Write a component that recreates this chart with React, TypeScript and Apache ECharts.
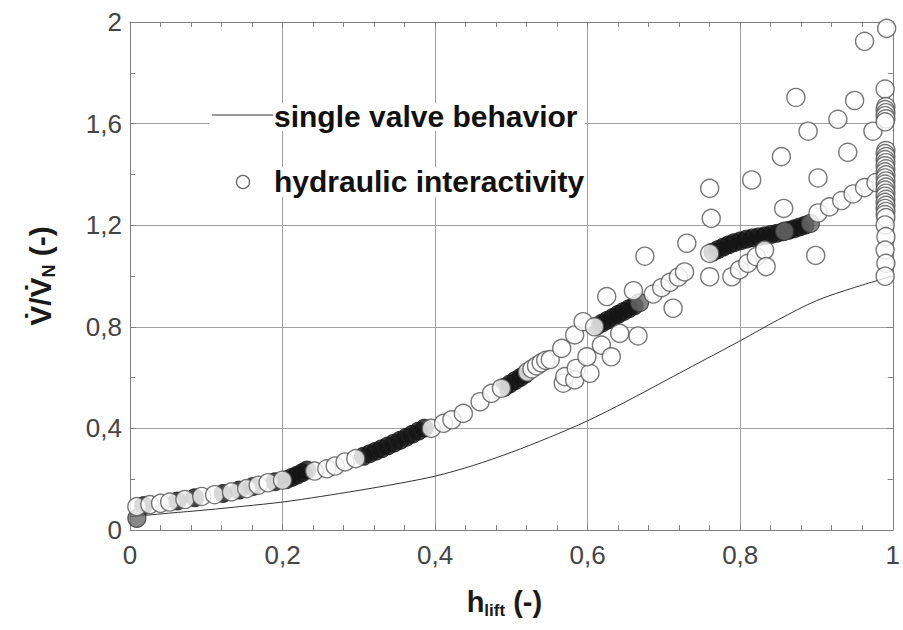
import React, { useEffect, useRef } from "react";
import * as echarts from "echarts";

// ---- single valve behaviour curve ----
const valveLift = [0, 0.05, 0.1, 0.15, 0.2, 0.25, 0.3, 0.35, 0.4, 0.45, 0.5, 0.55, 0.6, 0.65, 0.7, 0.75, 0.8, 0.85, 0.9, 0.95, 1.0];
const valveFlow = [0.052, 0.066, 0.079, 0.094, 0.11, 0.132, 0.156, 0.182, 0.212, 0.254, 0.306, 0.365, 0.43, 0.505, 0.585, 0.665, 0.745, 0.828, 0.903, 0.955, 1.0];

// ---- hydraulic interactivity: densely overlapping runs (appear black) ----
const denseRuns: number[][] = [
  [0.018, 0.096], [0.062, 0.114], [0.085, 0.127], [0.122, 0.144], [0.143, 0.157], [0.161, 0.171], [0.19, 0.19],
  [0.205, 0.198], [0.212, 0.207], [0.219, 0.216], [0.226, 0.226], [0.232, 0.236],
  [0.306, 0.290], [0.314, 0.300], [0.322, 0.310], [0.330, 0.320], [0.338, 0.331], [0.346, 0.342],
  [0.354, 0.353], [0.362, 0.365], [0.370, 0.377], [0.378, 0.389], [0.386, 0.401],
  [0.491, 0.562], [0.498, 0.575], [0.505, 0.588], [0.512, 0.601], [0.518, 0.613],
  [0.612, 0.803], [0.619, 0.815], [0.626, 0.826], [0.633, 0.837], [0.640, 0.849], [0.647, 0.860],
  [0.654, 0.871], [0.661, 0.882],
  [0.764, 1.094], [0.771, 1.104], [0.778, 1.114], [0.785, 1.123], [0.792, 1.131], [0.800, 1.138],
  [0.808, 1.145], [0.816, 1.150], [0.824, 1.154], [0.832, 1.158], [0.840, 1.163], [0.848, 1.168],
  [0.856, 1.174], [0.864, 1.180], [0.871, 1.186], [0.878, 1.193], [0.885, 1.200]
];

// ---- hydraulic interactivity: partly overlapping (grey) points ----
const shadedPoints: number[][] = [
  [0.009, 0.046], [0.668, 0.895], [0.892, 1.207], [0.858, 1.176]
];

// ---- hydraulic interactivity: individual circles ----
const lowPoints: number[][] = [
  [0.009, 0.092], [0.026, 0.100], [0.040, 0.105], [0.052, 0.110], [0.072, 0.120], [0.094, 0.132],
  [0.111, 0.139], [0.133, 0.150], [0.153, 0.163], [0.168, 0.176], [0.181, 0.186], [0.200, 0.196],
  [0.242, 0.232], [0.258, 0.241], [0.269, 0.252], [0.282, 0.268], [0.296, 0.281],
  [0.395, 0.400], [0.411, 0.420], [0.422, 0.434], [0.437, 0.459], [0.459, 0.505], [0.474, 0.538], [0.487, 0.558]
];
const midPoints: number[][] = [
  [0.521, 0.622], [0.527, 0.634], [0.533, 0.646], [0.539, 0.658], [0.545, 0.668],
  [0.568, 0.578], [0.570, 0.604], [0.583, 0.591], [0.585, 0.636], [0.603, 0.617], [0.551, 0.671],
  [0.566, 0.715], [0.583, 0.768], [0.599, 0.682], [0.618, 0.728], [0.631, 0.682], [0.642, 0.774],
  [0.666, 0.764], [0.594, 0.820], [0.609, 0.800], [0.625, 0.919], [0.660, 0.942], [0.712, 0.873],
  [0.686, 0.929], [0.697, 0.954], [0.708, 0.975], [0.719, 0.996], [0.727, 1.016],
  [0.675, 1.078], [0.730, 1.129]
];
const highPoints: number[][] = [
  [0.760, 1.089], [0.789, 0.997], [0.799, 1.024], [0.810, 1.050], [0.821, 1.076], [0.832, 1.102], [0.834, 1.037],
  [0.760, 0.997], [0.762, 1.227], [0.760, 1.345], [0.815, 1.378], [0.854, 1.470], [0.873, 1.703],
  [0.889, 1.570], [0.857, 1.266], [0.902, 1.386], [0.941, 1.487], [0.928, 1.617], [0.950, 1.691],
  [0.963, 1.924], [0.974, 1.570], [0.899, 1.081],
  [0.902, 1.248], [0.917, 1.272], [0.933, 1.297], [0.948, 1.323], [0.963, 1.348], [0.978, 1.368]
];
const fullOpenPoints: number[][] = [
  [0.992, 1.975], [0.990, 1.736], [0.991, 1.667], [0.990, 1.655], [0.991, 1.643], [0.990, 1.631],
  [0.991, 1.619], [0.990, 1.607],
  [0.991, 1.494], [0.990, 1.482], [0.991, 1.470], [0.990, 1.458], [0.991, 1.446], [0.990, 1.434],
  [0.991, 1.422], [0.990, 1.410], [0.991, 1.398], [0.990, 1.386], [0.991, 1.374], [0.990, 1.362],
  [0.991, 1.350], [0.990, 1.338], [0.991, 1.326], [0.990, 1.314], [0.991, 1.302], [0.990, 1.290],
  [0.991, 1.278], [0.990, 1.266], [0.991, 1.254], [0.990, 1.242], [0.991, 1.230],
  [0.990, 1.201], [0.991, 1.155], [0.990, 1.102], [0.991, 1.050], [0.990, 0.999]
];

const xTickStep = 0.2;
const yTickStep = 0.4;

const FONT = "'Liberation Sans', Arial, Helvetica, sans-serif";
const fmt = (v: number) => String(Number(v.toFixed(2))).replace(".", ",");

export default function App() {
  const ref = useRef<HTMLDivElement>(null);

  useEffect(() => {
    if (!ref.current) return;
    const chart = echarts.init(ref.current, undefined, { renderer: "svg" });

    const frame = { color: "#808080", width: 1 };
    const baseX = {
      type: "value" as const,
      min: 0,
      max: 1,
      interval: xTickStep,
      axisLine: { show: true, onZero: false, lineStyle: frame },
      axisTick: { show: true, inside: true, length: 6, lineStyle: frame },
      minorTick: { show: true, splitNumber: 5, length: 5, lineStyle: frame },
    };
    const baseY = {
      type: "value" as const,
      min: 0,
      max: 2,
      interval: yTickStep,
      axisLine: { show: true, onZero: false, lineStyle: frame },
      axisTick: { show: true, inside: true, length: 6, lineStyle: frame },
      minorTick: { show: true, splitNumber: 2, length: 5, lineStyle: frame },
    };
    const labelStyle = { fontFamily: FONT, fontSize: 26, color: "#444" };

    const circleStyle = { color: "#ffffff", borderColor: "#555", borderWidth: 1.4 };
    const SIZE = 18;

    const option: any = {
      animation: false,
      backgroundColor: "#ffffff",
      grid: { left: 130, right: 10, top: 22, bottom: 100, containLabel: false },
      xAxis: [
        {
          ...baseX,
          position: "bottom",
          splitLine: { show: true, lineStyle: { color: "#a0a0a0", width: 1 } },
          axisLabel: { ...labelStyle, margin: 12, formatter: fmt },
          name: "{m|h}{s|lift}{m| (-)}",
          nameLocation: "middle",
          nameGap: 55,
          nameTextStyle: {
            padding: [0, 14, 0, 0],
            rich: {
              m: { fontFamily: FONT, fontSize: 29, fontWeight: "bold", color: "#1a1a1a", lineHeight: 34 },
              s: { fontFamily: FONT, fontSize: 17, fontWeight: "bold", color: "#1a1a1a", lineHeight: 14, verticalAlign: "bottom" },
            },
          },
        },
        {
          ...baseX,
          position: "top",
          splitLine: { show: false },
          axisLabel: { show: false },
        },
      ],
      yAxis: [
        {
          ...baseY,
          position: "left",
          splitLine: { show: true, lineStyle: { color: "#a0a0a0", width: 1 } },
          axisLabel: { ...labelStyle, margin: 8, formatter: fmt },
          name: "{m|V\u0307/V\u0307}{s|N}{m| (-)}",
          nameLocation: "middle",
          nameRotate: 90,
          nameGap: 72,
          nameTextStyle: {
            rich: {
              m: { fontFamily: FONT, fontSize: 30, fontWeight: "bold", color: "#1a1a1a", lineHeight: 36 },
              s: { fontFamily: FONT, fontSize: 18, fontWeight: "bold", color: "#1a1a1a", lineHeight: 14, verticalAlign: "bottom" },
            },
          },
        },
        {
          ...baseY,
          position: "right",
          splitLine: { show: false },
          axisLabel: { show: false },
        },
      ],
      series: [
        {
          name: "single valve behavior",
          type: "line",
          data: valveLift.map((x, i) => [x, valveFlow[i]]),
          smooth: 0.3,
          symbol: "none",
          lineStyle: { color: "#333", width: 1 },
          z: 2,
        },
        {
          name: "dense",
          type: "scatter",
          data: denseRuns,
          symbolSize: SIZE,
          itemStyle: { color: "#141414", borderColor: "#141414", borderWidth: 1 },
          z: 3,
        },
        {
          name: "shaded",
          type: "scatter",
          data: shadedPoints,
          symbolSize: SIZE,
          itemStyle: { color: "#6a6a6a", borderColor: "#333", borderWidth: 1.2 },
          z: 4,
        },
        {
          name: "hydraulic interactivity",
          type: "scatter",
          data: [...lowPoints, ...midPoints, ...highPoints, ...fullOpenPoints],
          symbolSize: SIZE,
          itemStyle: circleStyle,
          z: 5,
        },
      ],
      graphic: [
        { type: "rect", shape: { x: 209, y: 103, width: 376, height: 28 }, style: { fill: "#fff" }, z: 50 },
        { type: "rect", shape: { x: 230, y: 167, width: 355, height: 30 }, style: { fill: "#fff" }, z: 50 },
        { type: "line", shape: { x1: 212, y1: 115, x2: 273, y2: 115 }, style: { stroke: "#333", lineWidth: 1 }, z: 51 },
        { type: "circle", shape: { cx: 243, cy: 182, r: 6.5 }, style: { fill: "#fff", stroke: "#666", lineWidth: 1.3 }, z: 51 },
        {
          type: "text",
          x: 274,
          y: 116,
          style: { text: "single valve behavior", font: `bold 30px ${FONT}`, fill: "#111", textVerticalAlign: "middle" },
          z: 51,
        },
        {
          type: "text",
          x: 274,
          y: 181,
          style: { text: "hydraulic interactivity", font: `bold 30px ${FONT}`, fill: "#111", textVerticalAlign: "middle" },
          z: 51,
        },
      ],
    };

    chart.setOption(option);
    return () => chart.dispose();
  }, []);

  return (
    <div
      ref={ref}
      style={{ position: "fixed", left: 0, top: 0, width: 903, height: 630, background: "#fff" }}
    />
  );
}
